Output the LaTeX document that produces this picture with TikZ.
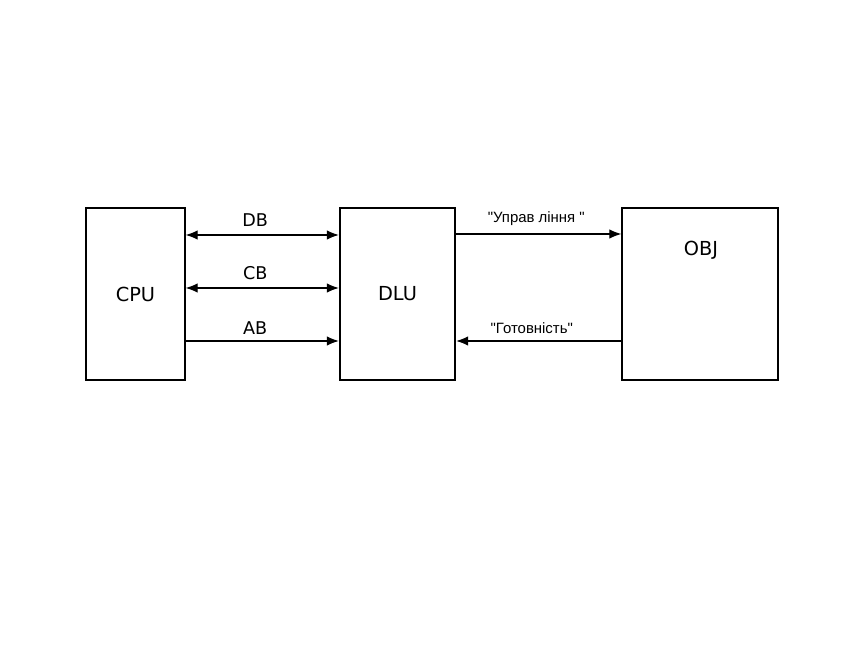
\documentclass[tikz,border=0pt]{standalone}
\usepackage{fontspec}
\setmainfont{DejaVu Sans}
\newfontfamily\labelfont{Liberation Sans}
\usetikzlibrary{arrows.meta}

\begin{document}
\begin{tikzpicture}[every node/.style={inner sep=0pt},
    blk/.style={draw, line width=0.8pt, minimum height=3.44cm, font=\fontsize{11}{13}\selectfont},
    bus/.style={line width=0.6pt, >={Latex[length=2.4mm,width=1.9mm]}},
    sig/.style={font=\labelfont\fontsize{8.5}{10}\selectfont}]
    \useasboundingbox (0,0) rectangle (17,13);

    \node[blk, minimum width=1.98cm] (CPU) at (2.71,7.12) {CPU};
    \node[blk, minimum width=2.30cm, line width=1.4pt] (DLU) at (7.95,7.12) {DLU};
    \node[blk, minimum width=3.12cm] (OBJ) at (14.00,7.12) {};
    \node[font=\fontsize{11}{13}\selectfont] (objname) at (14.02,8.00) {OBJ};

    % Buses CPU - DLU
    \draw[bus, <->] (CPU.east |- 0,8.30) -- (DLU.west |- 0,8.30) node[midway, above=1.6mm, xshift=-1.4mm] {DB};
    \draw[bus, <->] (CPU.east |- 0,7.24) -- (DLU.west |- 0,7.24) node[midway, above=1.6mm, xshift=-1.4mm] {CB};
    \draw[bus, ->] (CPU.east |- 0,6.18) -- (DLU.west |- 0,6.18) node[midway, above=1.1mm, xshift=-1.4mm] {AB};

    % Lines DLU - OBJ
    \draw[bus, ->] (DLU.east |- 0,8.32) -- (OBJ.west |- 0,8.32) node[midway, above=1.6mm, xshift=-0.5mm, sig] {"Управ ління  "};
    \draw[bus, ->] (OBJ.west |- 0,6.18) -- (DLU.east |- 0,6.18) node[midway, above=1.4mm, xshift=-1.4mm, sig] {"Готовність"};
\end{tikzpicture}
\end{document}
